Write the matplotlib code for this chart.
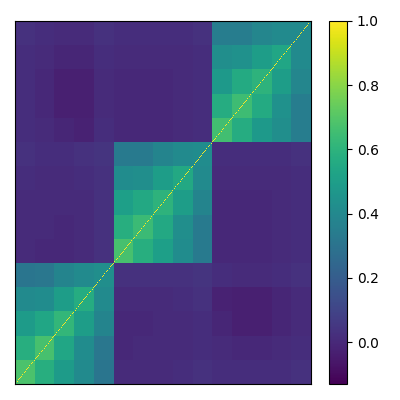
import numpy as np
import matplotlib
matplotlib.use("Agg")
import matplotlib.pyplot as plt

n_per_block = 30

# correlation per sub-block (row 0 is at the bottom)
group_a = [[0.68, 0.58, 0.49, 0.41, 0.31],
           [0.58, 0.67, 0.54, 0.42, 0.32],
           [0.49, 0.54, 0.62, 0.50, 0.38],
           [0.41, 0.42, 0.50, 0.57, 0.41],
           [0.31, 0.32, 0.38, 0.41, 0.43]]
group_b = [[0.67, 0.58, 0.51, 0.42, 0.33],
           [0.58, 0.64, 0.55, 0.43, 0.33],
           [0.51, 0.55, 0.60, 0.50, 0.38],
           [0.42, 0.43, 0.50, 0.55, 0.41],
           [0.33, 0.33, 0.38, 0.41, 0.42]]
group_c = [[0.66, 0.57, 0.48, 0.43, 0.35],
           [0.57, 0.65, 0.56, 0.44, 0.35],
           [0.48, 0.56, 0.60, 0.50, 0.39],
           [0.43, 0.44, 0.50, 0.54, 0.41],
           [0.35, 0.35, 0.39, 0.41, 0.41]]
cross_ab = [[0.01, 0.01, 0.01, 0.02, 0.03],
            [0.00, 0.01, 0.01, 0.01, 0.02],
            [0.00, 0.00, 0.01, 0.01, 0.02],
            [0.01, 0.01, 0.01, 0.02, 0.03],
            [0.03, 0.03, 0.03, 0.03, 0.04]]
cross_ac = [[0.02, 0.02, 0.02, 0.02, 0.03],
            [0.01, 0.00, 0.00, 0.01, 0.02],
            [-0.01, -0.03, -0.03, -0.01, 0.01],
            [-0.02, -0.03, -0.03, -0.01, 0.01],
            [0.02, 0.01, 0.01, 0.02, 0.03]]
cross_bc = [[0.00, 0.00, 0.00, 0.01, 0.02],
            [0.00, 0.00, 0.00, 0.01, 0.02],
            [0.00, 0.00, 0.00, 0.01, 0.02],
            [0.01, 0.01, 0.01, 0.01, 0.02],
            [0.02, 0.02, 0.02, 0.02, 0.03]]
color_min = -0.13
color_max = 1.0
cbar_ticks = [0.0, 0.2, 0.4, 0.6, 0.8, 1.0]
cbar_labels = ["0.0", "0.2", "0.4", "0.6", "0.8", "1.0"]

a = np.array(group_a)
b = np.array(group_b)
c = np.array(group_c)
ab = np.array(cross_ab)
ac = np.array(cross_ac)
bc = np.array(cross_bc)
coarse = np.block([[a, ab, ac],
                   [ab.T, b, bc],
                   [ac.T, bc.T, c]])
corr = np.kron(coarse, np.ones((n_per_block, n_per_block)))
np.fill_diagonal(corr, 1.0)

fig = plt.figure(figsize=(4, 4), dpi=100)
ax = fig.add_axes([15/400, 16/400, 296/400, 363/400])
im = ax.imshow(corr, origin="lower", aspect="auto", cmap="viridis",
               vmin=color_min, vmax=color_max, interpolation="nearest")
ax.set_xticks([])
ax.set_yticks([])

cax = fig.add_axes([329/400, 16/400, 18/400, 363/400])
cbar = fig.colorbar(im, cax=cax)
cbar.set_ticks(cbar_ticks)
cbar.set_ticklabels(cbar_labels)

fig.savefig("out.png", dpi=100)
